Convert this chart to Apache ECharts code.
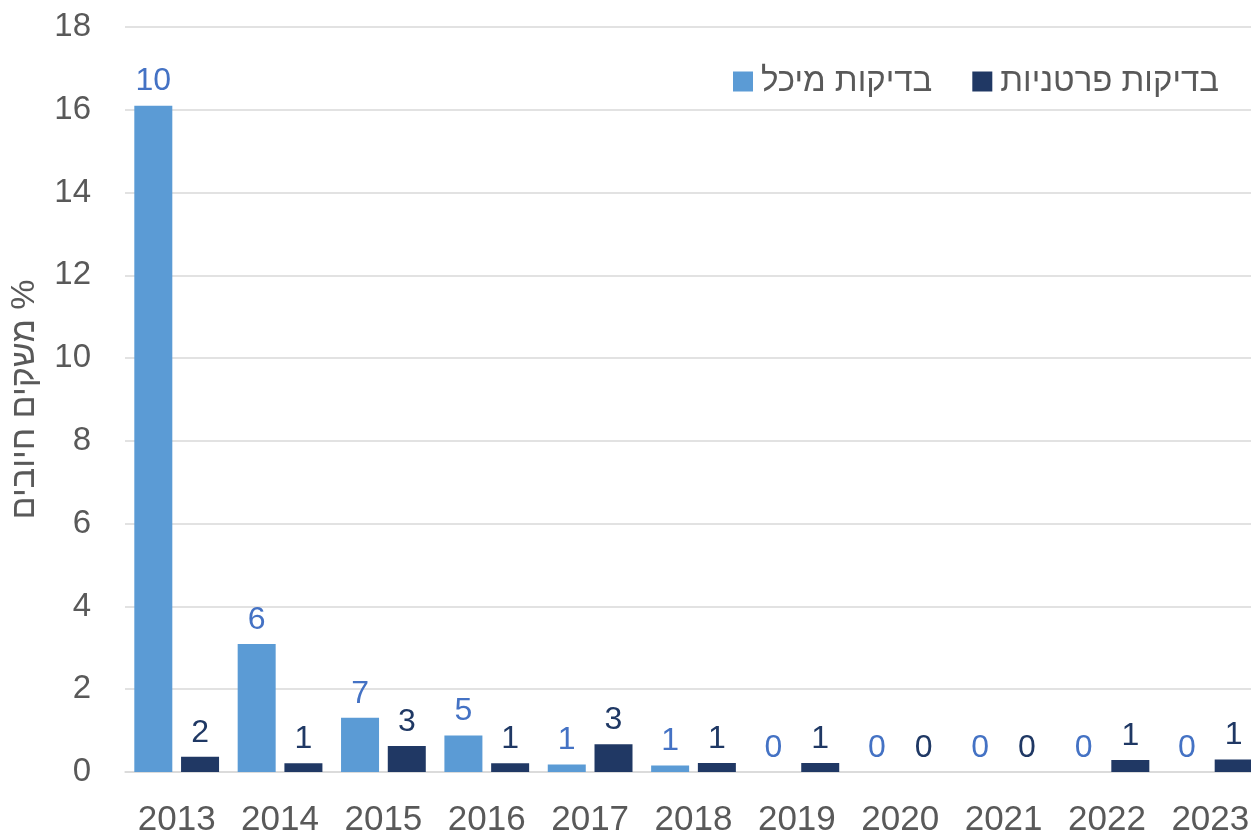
<!DOCTYPE html>
<html>
<head>
<meta charset="utf-8">
<script src="https://cdn.jsdelivr.net/npm/echarts@6/dist/echarts.min.js"></script>
<style>
  html, body { margin: 0; padding: 0; background: #fff; }
  #chart { width: 1251px; height: 831px; }
</style>
</head>
<body>
<div id="chart"></div>
<script>
// categories (years)
var years = ["2013", "2014", "2015", "2016", "2017", "2018", "2019", "2020", "2021", "2022", "2023"];
// bar heights (% positive farms)
var tankPct = [16.1, 3.09, 1.31, 0.88, 0.18, 0.16, 0, 0, 0, 0, 0];
var individualPct = [0.37, 0.21, 0.63, 0.21, 0.67, 0.22, 0.22, 0, 0, 0.29, 0.3];
// labels above bars (counts)
var tankCount = [10, 6, 7, 5, 1, 1, 0, 0, 0, 0, 0];
var individualCount = [2, 1, 3, 1, 3, 1, 1, 0, 0, 1, 1];
// y axis ticks
var yMin = 0, yMax = 18, yStep = 2;

var seriesNames = ["בדיקות מיכל", "בדיקות פרטניות"];
var font = "Liberation Sans";

var chart = echarts.init(document.getElementById("chart"));
chart.setOption({
  animation: false,
  textStyle: { fontFamily: font },
  grid: { left: 125, right: -11, top: 27, bottom: 59, outerBoundsMode: "none" },
  legend: {
    data: seriesNames,
    right: 27,
    top: 60,
    itemWidth: 20,
    itemHeight: 20,
    itemGap: 40,
    icon: "rect",
    textStyle: { fontSize: 33, color: "#595959", fontFamily: font, padding: [0, 0, 0, 3] }
  },
  xAxis: {
    type: "category",
    data: years,
    axisTick: { show: false },
    axisLine: { lineStyle: { color: "#d9d9d9", width: 1.5 } },
    axisLabel: { fontSize: 35, color: "#595959", margin: 31 }
  },
  yAxis: {
    type: "value",
    min: yMin,
    max: yMax,
    interval: yStep,
    name: "משקים חיובים %",
    nameLocation: "middle",
    nameGap: 83,
    nameTextStyle: { fontSize: 34, color: "#595959" },
    axisLine: { show: false },
    axisTick: { show: false },
    splitLine: { lineStyle: { color: "#d9d9d9", width: 1.5 } },
    axisLabel: { fontSize: 33, color: "#595959", margin: 34 }
  },
  series: [
    {
      name: seriesNames[0],
      type: "bar",
      data: tankPct,
      barWidth: 38,
      barGap: "23%",
      itemStyle: { color: "#5b9bd5" },
      label: {
        show: true,
        position: "top",
        distance: 8,
        fontSize: 32,
        color: "#4472c4",
        formatter: function (p) { return tankCount[p.dataIndex]; }
      }
    },
    {
      name: seriesNames[1],
      type: "bar",
      data: individualPct,
      barWidth: 38,
      barGap: "23%",
      itemStyle: { color: "#203864" },
      label: {
        show: true,
        position: "top",
        distance: 8,
        fontSize: 32,
        color: "#1f3864",
        formatter: function (p) { return individualCount[p.dataIndex]; }
      }
    }
  ]
});
</script>
</body>
</html>
